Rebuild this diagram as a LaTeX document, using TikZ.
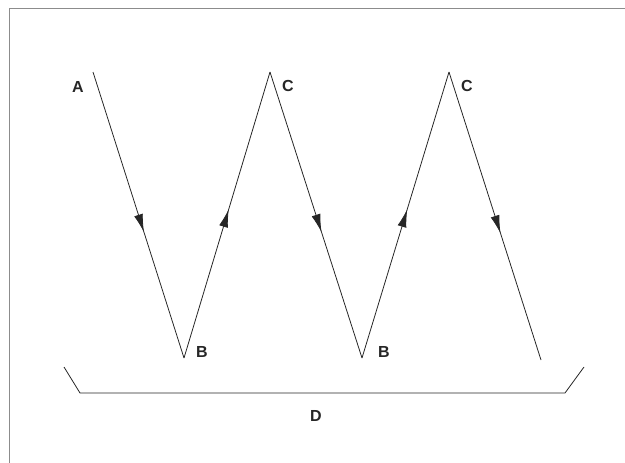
\documentclass[tikz,border=0pt]{standalone}
\usepackage{fontspec}
\setmainfont{Liberation Sans}
\usetikzlibrary{arrows.meta,decorations.markings}
\tikzset{
  ray/.style={line width=0.8pt, black!85},
  midarrow/.style={postaction={decorate},
    decoration={markings, mark=at position #1 with {\arrow{Latex[length=18pt,width=9pt]}}}},
  pointlabel/.style={font=\fontsize{16}{19}\selectfont\bfseries, text=black!85, inner sep=0pt},
}
\begin{document}
\begin{tikzpicture}[x=1pt,y=-1pt]
  \useasboundingbox (0,0) rectangle (625,463);
  % frame of the scan
  \draw[black!45, line width=1pt] (9,463) -- (9,8) -- (625,8);
  % turning points of the zigzag
  \coordinate (A) at (93,72);
  \coordinate (B1) at (184,358);
  \coordinate (C1) at (270,72);
  \coordinate (B2) at (362,358);
  \coordinate (C2) at (449,72);
  \coordinate (E) at (541,360);
  % labels
  \node[pointlabel] (labA) at (78,87) {A};
  \node[pointlabel] (labB1) at (202,352) {B};
  \node[pointlabel] (labC1) at (288,86) {C};
  \node[pointlabel] (labB2) at (384,352) {B};
  \node[pointlabel] (labC2) at (467,86) {C};
  \node[pointlabel] (labD) at (316,416) {D};
  % the zigzag, arrows along each leg
  \draw[ray, midarrow=0.56] (A) -- (B1);
  \draw[ray, midarrow=0.52] (B1) -- (C1);
  \draw[ray, midarrow=0.56] (C1) -- (B2);
  \draw[ray, midarrow=0.52] (B2) -- (C2);
  \draw[ray, midarrow=0.56] (C2) -- (E);
  % bracket over the whole span
  \coordinate (DL) at (64,367);
  \coordinate (DR) at (584,367);
  \draw[ray] (DL) -- (80,393) -- (565,393) -- (DR);
\end{tikzpicture}
\end{document}
